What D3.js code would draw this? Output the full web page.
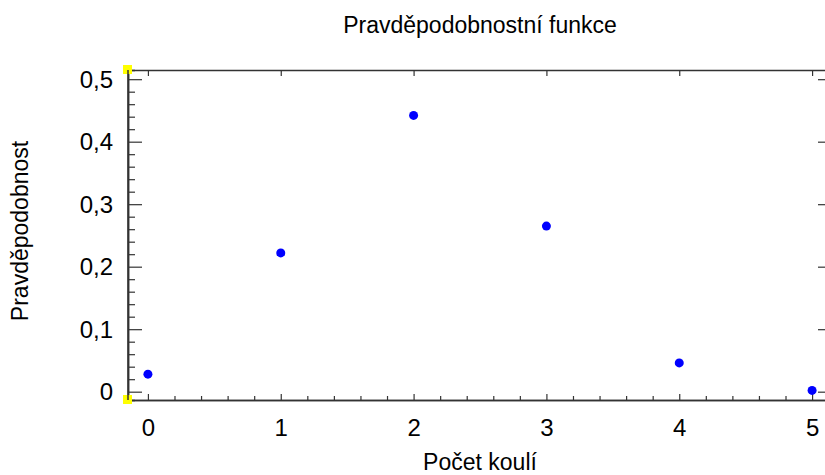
<!DOCTYPE html>
<html>
<head>
<meta charset="utf-8">
<script src="https://cdn.jsdelivr.net/npm/d3@7"></script>
<style>
  body { margin: 0; background: #fff; }
  text { font-family: "Liberation Sans", Arial, sans-serif; fill: #000; }
</style>
</head>
<body>
<div id="chart"></div>
<script>
var counts = [0, 1, 2, 3, 4, 5];
var probs = [0.028, 0.222, 0.442, 0.265, 0.046, 0.002];
var yTicks = [0, 0.1, 0.2, 0.3, 0.4, 0.5];
var xTicks = [0, 1, 2, 3, 4, 5];

var width = 825, height = 475;
var margin = { top: 70, right: -7, bottom: 75, left: 128 };

var svg = d3.select("#chart").append("svg").attr("width", width).attr("height", height);

var x = d3.scaleLinear().domain([-0.15, 5.15]).range([margin.left, width - margin.right]);
var y = d3.scaleLinear().domain([-0.0133, 0.5147]).range([height - margin.bottom, margin.top]);

var czech = d3.formatLocale({ decimal: ",", thousands: " ", grouping: [3], currency: ["", " Kč"] });
var yFmt = function(d) { return d === 0 ? "0" : czech.format(".1f")(d); };
var xFmt = d3.format("d");

// minor ticks every 0.2 on x, every 0.02 on y
var xMinor = d3.range(1, 26).map(function(i) { return i * 0.2; }).filter(function(d, i) { return (i + 1) % 5 !== 0; });
var yMinor = d3.range(1, 25).map(function(i) { return i * 0.02; }).filter(function(d, i) { return (i + 1) % 5 !== 0; });

// bottom axis
var gb = svg.append("g").attr("transform", "translate(0," + y.range()[0] + ")");
gb.call(d3.axisBottom(x).tickValues(xMinor).tickSize(-4).tickFormat(""));
var gb2 = svg.append("g").attr("transform", "translate(0," + y.range()[0] + ")")
  .call(d3.axisBottom(x).tickValues(xTicks).tickSizeInner(-6).tickSizeOuter(0).tickPadding(19).tickFormat(xFmt));
gb2.selectAll("text").style("font-size", "24px");

// top axis
var gt = svg.append("g").attr("transform", "translate(0," + margin.top + ")");
gt.call(d3.axisTop(x).tickValues(xMinor).tickSize(-4).tickFormat(""));
gt.call(d3.axisTop(x).tickValues(xTicks).tickSizeInner(-6).tickSizeOuter(0).tickFormat(""));

// left axis
var gl = svg.append("g").attr("transform", "translate(" + margin.left + ",0)");
gl.call(d3.axisLeft(y).tickValues(yMinor).tickSize(-7).tickFormat(""));
var gl2 = svg.append("g").attr("transform", "translate(" + margin.left + ",0)")
  .call(d3.axisLeft(y).tickValues(yTicks).tickSizeInner(-14).tickSizeOuter(0).tickPadding(15).tickFormat(yFmt));
gl2.selectAll("text").style("font-size", "24px").attr("dy", "0.34em");

// right axis
var gr = svg.append("g").attr("transform", "translate(" + x.range()[1] + ",0)");
gr.call(d3.axisRight(y).tickValues(yMinor).tickSize(-7).tickFormat(""));
gr.call(d3.axisRight(y).tickValues(yTicks).tickSizeInner(-14).tickSizeOuter(0).tickFormat(""));

svg.selectAll(".domain").attr("stroke", "#333").attr("stroke-width", 1.5);
svg.selectAll(".tick line").attr("stroke", "#333").attr("stroke-width", 1.2);

// corner markers
svg.selectAll(".corner").data([y.range()[1], y.range()[0]]).enter().append("rect")
  .attr("class", "corner")
  .attr("x", margin.left - 5).attr("y", function(d) { return d - 5; })
  .attr("width", 9).attr("height", 9)
  .attr("fill", "#ffff00");

// redraw left axis line above the markers
svg.append("line")
  .attr("x1", margin.left).attr("x2", margin.left)
  .attr("y1", y.range()[1]).attr("y2", y.range()[0])
  .attr("stroke", "#333").attr("stroke-width", 1.5);

// points
svg.selectAll(".pt").data(counts).enter().append("circle")
  .attr("class", "pt")
  .attr("cx", function(d) { return x(d); })
  .attr("cy", function(d, i) { return y(probs[i]); })
  .attr("r", 4.5)
  .attr("fill", "#0000ff");

svg.append("text").attr("x", (x.range()[0] + x.range()[1]) / 2).attr("y", 33)
  .attr("text-anchor", "middle").style("font-size", "23px")
  .text("Pravděpodobnostní funkce");

svg.append("text").attr("x", (x.range()[0] + x.range()[1]) / 2).attr("y", 470)
  .attr("text-anchor", "middle").style("font-size", "23px")
  .text("Počet koulí");

svg.append("text").attr("transform", "translate(28," + 231 + ") rotate(-90)")
  .attr("text-anchor", "middle").style("font-size", "23px")
  .text("Pravděpodobnost");
</script>
</body>
</html>
